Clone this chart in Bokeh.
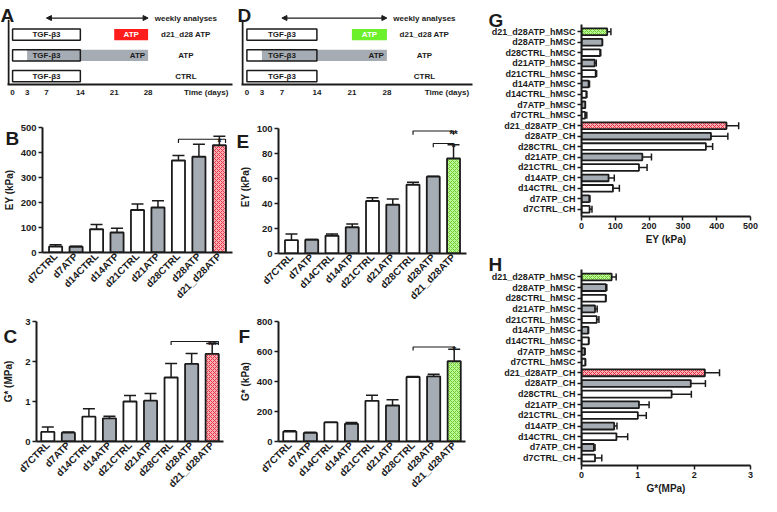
import math
from bokeh.plotting import figure
from bokeh.models import (ColumnDataSource, FactorRange, Range1d, FixedTicker,
                          Whisker, TeeHead, Label, Arrow, NormalHead, GridBox)
from bokeh.layouts import row, column
from bokeh.embed import file_html
from bokeh.resources import INLINE
from bokeh.core.properties import value

FONT = "Liberation Sans"
INK = "#1b1b1b"
GRAY = "#a6acb3"
RED_FILL, RED_HATCH = "#f8b0b8", "#e83445"
GREEN_FILL, GREEN_HATCH = "#bff59a", "#6ccf2c"
RED_BOX = "#ff1c1c"
GREEN_BOX = "#6cf02a"

# ---------------- data ----------------
time_ticks = [0, 3, 7, 14, 21, 28]
tgf_days = [0, 14]
atp_pulse_days = [21, 28]
atp_cont_days = [3, 28]
analysis_days = [7, 28]
group_labels = ["d21_d28 ATP", "ATP", "CTRL"]

cats = ["d7CTRL", "d7ATP", "d14CTRL", "d14ATP", "d21CTRL", "d21ATP",
        "d28CTRL", "d28ATP", "d21_d28ATP"]

# chondrocytes (CH)
ch_ey = [24, 23, 93, 80, 170, 180, 368, 383, 429]            # kPa
ch_ey_err = [7, 2, 19, 17, 24, 27, 20, 50, 36]
ch_g = [0.24, 0.22, 0.62, 0.58, 1.00, 1.02, 1.60, 1.94, 2.19]  # MPa
ch_g_err = [0.12, 0.02, 0.20, 0.05, 0.15, 0.18, 0.35, 0.26, 0.26]

# hMSC
ms_ey = [10.7, 11.0, 14.2, 21.0, 42.0, 39.0, 55.0, 61.5, 76.0]  # kPa
ms_ey_err = [5.0, 0.3, 1.5, 2.7, 2.7, 4.7, 2.0, 0.3, 11.0]
ms_g = [66, 57, 127, 118, 271, 240, 430, 434, 535]             # kPa
ms_g_err = [6, 5, 2, 8, 38, 38, 3, 15, 80]

hcats = [c + "_CH" for c in cats] + [c + "_hMSC" for c in cats]

panel_letters = ["A", "B", "C", "D", "E", "F", "G", "H"]


def base_fig(w, h, l, r, t, b, xr, yr, **kw):
    p = figure(width=w, height=h, x_range=xr, y_range=yr,
               output_backend="svg", toolbar_location=None,
               min_border_left=l, min_border_right=r,
               min_border_top=t, min_border_bottom=b, **kw)
    p.frame_align = False
    p.grid.visible = False
    p.outline_line_color = None
    p.background_fill_color = "white"
    p.border_fill_color = "white"
    for ax in p.axis:
        ax.axis_line_width = 2
        ax.axis_line_color = INK
        ax.major_tick_line_width = 1.5
        ax.major_tick_line_color = INK
        ax.major_tick_out = 4
        ax.major_tick_in = 0
        ax.minor_tick_out = 0
        ax.minor_tick_in = 0
        ax.major_label_text_font = FONT
        ax.major_label_text_font_style = "bold"
        ax.major_label_text_font_size = "9.5px"
        ax.major_label_text_color = INK
        ax.axis_label_text_font = FONT
        ax.axis_label_text_font_style = "bold"
        ax.axis_label_text_font_size = "10px"
        ax.axis_label_text_color = INK
        ax.major_label_standoff = 2
        ax.axis_label_standoff = 3
    return p


def timeline(w, h, l, r, xstart, ppd, pulse_color, label_x, tl_x):
    frame_w = w - l - r
    p = base_fig(w, h, l, r, 3, 16, Range1d(xstart, xstart + frame_w / ppd),
                 Range1d(0.6, 4.5), y_axis_location=None)
    ys = [3, 2, 1]
    hh = 0.27
    tf = dict(text_font=value(FONT), text_font_style=value("bold"),
              text_font_size=value("8px"), text_baseline="middle")
    # left vertical line of the schematic
    p.segment(x0=[xstart + 1.0 / ppd], y0=[0.6], x1=[xstart + 1.0 / ppd],
              y1=[3.72], line_color=INK, line_width=2)
    p.quad(left=[atp_cont_days[0]], right=[atp_cont_days[1]], bottom=[2 - hh],
           top=[2 + hh], fill_color=GRAY, line_color=None)
    p.quad(left=[tgf_days[0]] * 2, right=[tgf_days[1]] * 2,
           bottom=[3 - hh, 1 - hh], top=[3 + hh, 1 + hh],
           fill_color="white", line_color=INK, line_width=1.5)
    p.quad(left=[tgf_days[0]], right=[tgf_days[1]], bottom=[2 - hh],
           top=[2 + hh], fill_color=None, line_color=INK, line_width=1.5)
    p.quad(left=[atp_pulse_days[0]], right=[atp_pulse_days[1]],
           bottom=[3 - hh], top=[3 + hh], fill_color=pulse_color, line_color=None)
    tgf_mid = (tgf_days[0] + tgf_days[1]) / 2
    p.text(x=[tgf_mid] * 3, y=ys, text=["TGF-β3"] * 3, text_align="center",
           text_color=INK, **tf)
    p.text(x=[(atp_pulse_days[0] + atp_pulse_days[1]) / 2], y=[3], text=["ATP"],
           text_align="center", text_color="white", **tf)
    p.text(x=[atp_cont_days[1] - 0.6], y=[2], text=["ATP"], text_align="right",
           text_color=INK, **tf)
    p.text(x=[label_x] * 3, y=ys, text=group_labels, text_align="center",
           text_color=INK, **tf)
    p.text(x=[label_x], y=[3.8], text=["weekly analyses"], text_align="center",
           text_color=INK, **tf)
    p.add_layout(Arrow(x_start=analysis_days[0], y_start=3.8,
                       x_end=analysis_days[1], y_end=3.8,
                       start=NormalHead(size=5, fill_color=INK, line_color=INK),
                       end=NormalHead(size=5, fill_color=INK, line_color=INK),
                       line_width=1.3, line_color=INK))
    p.xaxis.ticker = FixedTicker(ticks=time_ticks + [tl_x])
    p.xaxis.major_label_overrides = {tl_x: "Time (days)"}
    p.xaxis.major_tick_out = 0
    p.xaxis.major_label_text_font_size = "8px"
    p.xaxis.major_label_standoff = 3
    return p


def bar_colors(names, combo_fill, combo_hatch):
    fills, hp, hc = [], [], []
    for c in names:
        if c.startswith("d21_d28"):
            fills.append(combo_fill); hp.append("x"); hc.append(combo_hatch)
        elif "CTRL" in c:
            fills.append("white"); hp.append(" "); hc.append(INK)
        else:
            fills.append(GRAY); hp.append(" "); hc.append(INK)
    return fills, hp, hc


def vbar_panel(w, h, l, r, t, b, pad, vals, errs, ytop, ymax, yticks, ylabel,
               cfill, chatch, brackets, ylab_standoff=3):
    p = base_fig(w, h, l, r, t, b,
                 FactorRange(factors=cats, range_padding=pad,
                             range_padding_units="absolute"),
                 Range1d(0, ytop))
    fills, hp, hc = bar_colors(cats, cfill, chatch)
    src = ColumnDataSource(dict(cats=cats, val=vals,
                                lo=[v - e for v, e in zip(vals, errs)],
                                hi=[v + e for v, e in zip(vals, errs)],
                                fill=fills, hp=hp, hc=hc))
    p.vbar(x="cats", top="val", bottom=0, width=0.64, source=src,
           fill_color="fill", line_color=INK, line_width=1.8,
           hatch_pattern="hp", hatch_color="hc", hatch_scale=4, hatch_weight=1)
    p.add_layout(Whisker(source=src, base="cats", lower="lo", upper="hi",
                         line_color=INK, line_width=1.5,
                         upper_head=TeeHead(size=12, line_color=INK, line_width=1.5),
                         lower_head=TeeHead(size=12, line_color=INK, line_width=1.5)))
    p.yaxis.ticker = FixedTicker(ticks=yticks)
    p.yaxis.bounds = (0, ymax)
    p.yaxis.axis_label = ylabel
    p.yaxis.axis_label_standoff = ylab_standoff
    p.xaxis.major_label_orientation = math.pi / 4
    p.xaxis.major_label_text_font_size = "10px"
    p.xaxis.major_tick_out = 0
    p.xaxis.major_label_standoff = 2
    d = ymax * 0.03
    for c0, c1, shift, yb, stars in brackets:
        x0 = cats.index(c0) + 0.5
        x1 = cats.index(c1) + 0.5 + shift
        p.multi_line(xs=[[x0, x0, x1, x1]], ys=[[yb - d, yb, yb, yb - d]],
                     line_color=INK, line_width=1.2)
        p.add_layout(Label(x=cats.index(c1) + 0.5, y=yb, text=stars,
                           text_align="center", text_baseline="alphabetic",
                           y_offset=-3, text_font=FONT, text_font_style="bold",
                           text_font_size="11px", text_color=INK))
    return p


def hbar_panel(w, h, l, r, t, b, vals, errs, xmax, xticks, xlabel):
    p = base_fig(w, h, l, r, t, b, Range1d(0, xmax),
                 FactorRange(factors=hcats, range_padding=0.2,
                             range_padding_units="absolute"))
    f1, h1, c1 = bar_colors(cats, RED_FILL, RED_HATCH)
    f2, h2, c2 = bar_colors(cats, GREEN_FILL, GREEN_HATCH)
    src = ColumnDataSource(dict(cats=hcats, val=vals,
                                hi=[v + e for v, e in zip(vals, errs)],
                                fill=f1 + f2, hp=h1 + h2, hc=c1 + c2))
    p.hbar(y="cats", right="val", left=0, height=0.64, source=src,
           fill_color="fill", line_color=INK, line_width=1.8,
           hatch_pattern="hp", hatch_color="hc", hatch_scale=4, hatch_weight=1)
    p.add_layout(Whisker(source=src, base="cats", lower="val", upper="hi",
                         dimension="width", line_color=INK, line_width=1.5,
                         lower_head=None,
                         upper_head=TeeHead(size=7, line_color=INK, line_width=1.5)))
    p.xaxis.ticker = FixedTicker(ticks=xticks)
    p.xaxis.axis_label = xlabel
    p.xaxis.axis_label_standoff = 2
    p.yaxis.major_label_text_font_size = "9px"
    p.xaxis.major_label_text_font_size = "9px"
    return p


pA = timeline(236, 100, 7, 4, -1.05, 4.84, RED_BOX, 35.8, 40)
pD = timeline(252, 100, 5, 16, -1.08, 5.0, GREEN_BOX, 35.5, 40)

pB = vbar_panel(236, 214, 40, 4, 27, 62, 0.14, ch_ey, ch_ey_err, 500, 500,
                [0, 100, 200, 300, 400, 500], "EY (kPa)", RED_FILL, RED_HATCH,
                [("d28CTRL", "d21_d28ATP", 0.3, 453, "*")])
pC = vbar_panel(236, 182, 33, 13, 7, 52, 0.05, ch_g, ch_g_err, 3, 3,
                [0, 1, 2, 3], "G* (MPa)", RED_FILL, RED_HATCH,
                [("d28CTRL", "d21_d28ATP", 0.3, 2.5, "**")], ylab_standoff=8)
pE = vbar_panel(252, 214, 39, 22, 20, 61, 0.14, ms_ey, ms_ey_err, 106.4, 100,
                [0, 20, 40, 60, 80, 100], "EY (kPa)", GREEN_FILL, GREEN_HATCH,
                [("d28CTRL", "d21_d28ATP", 0.0, 98, "**"),
                 ("d28ATP", "d21_d28ATP", 0.0, 88, "*")])
pF = vbar_panel(252, 182, 40, 23, 7, 52, 0.05, ms_g, ms_g_err, 800, 800,
                [0, 200, 400, 600, 800], "G* (kPa)", GREEN_FILL, GREEN_HATCH,
                [("d28CTRL", "d21_d28ATP", 0.0, 630, "*")])

pG = hbar_panel(273, 247, 91, 11, 24, 31, ch_ey + ms_ey, ch_ey_err + ms_ey_err,
                500, [0, 100, 200, 300, 400, 500], "EY (kPa)")
pH = hbar_panel(273, 249, 91, 11, 22, 31, ch_g + [v / 1000 for v in ms_g],
                ch_g_err + [e / 1000 for e in ms_g_err],
                3, [0, 1, 2, 3], "G*(MPa)")

main = row(column(pA, pB, pC), column(pD, pE, pF), column(pG, pH))

# transparent overlay carrying the panel letters (page-layout pixel positions)
W, H = 761, 496
ov = figure(width=W, height=H, x_range=Range1d(0, W), y_range=Range1d(H, 0),
            x_axis_location=None, y_axis_location=None, output_backend="svg",
            toolbar_location=None, min_border_left=0, min_border_right=0,
            min_border_top=0, min_border_bottom=0)
ov.frame_align = False
ov.grid.visible = False
ov.outline_line_color = None
ov.background_fill_color = None
ov.border_fill_color = None
letter_x = [0, 5, 3, 237, 236, 238, 488, 488]
letter_y = [15, 138, 336, 15, 141, 336, 20, 264]
ov.text(x=letter_x, y=letter_y, text=panel_letters, text_font=value(FONT),
        text_font_style=value("bold"), text_font_size=value("19px"),
        text_color=INK, text_baseline="alphabetic", text_align="left")

layout = GridBox(children=[(main, 0, 0), (ov, 0, 0)])

open("out.html", "w").write(file_html(layout, INLINE))
